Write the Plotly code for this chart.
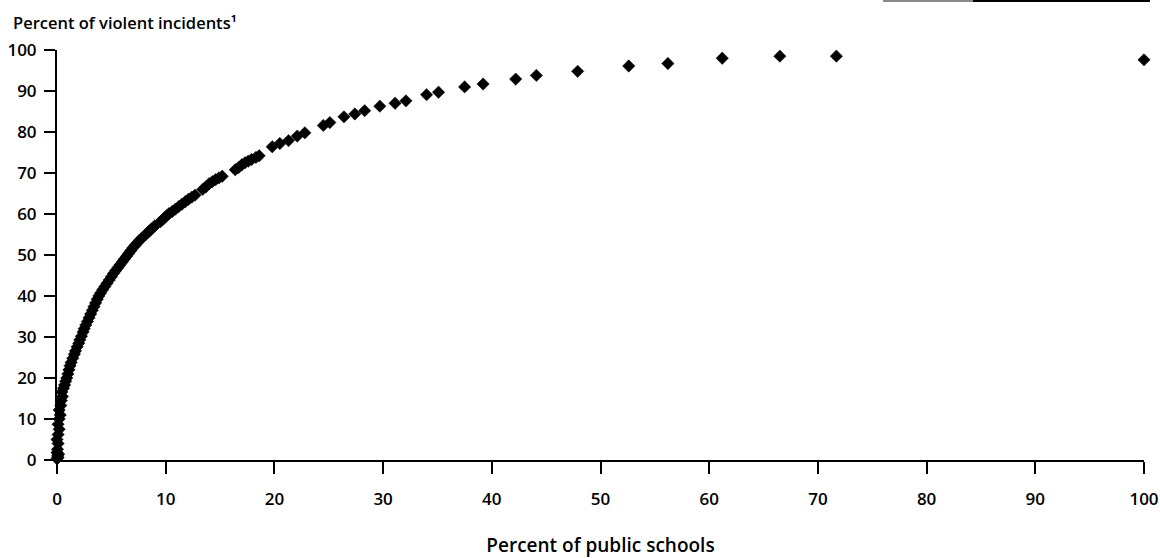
import plotly.graph_objects as go

# Percent of public schools (x) vs cumulative percent of violent incidents (y)
pct_schools = [
    0.0, 0.05, 0.1, 0.0, 0.15, 0.05, 0.1, 0.0, 0.1, 0.2, 0.1, 0.2, 0.3, 0.2, 0.35,
    0.4, 0.5, 0.45, 0.6, 0.7, 0.8, 0.9, 1.0, 1.1, 1.2, 1.3, 1.45, 1.6, 1.7, 1.85,
    2.0, 2.1, 2.25, 2.4, 2.5, 2.65, 2.8, 2.95, 3.1, 3.25, 3.4, 3.55, 3.7, 3.85, 4.0,
    4.2, 4.4, 4.6, 4.8, 5.0, 5.2, 5.4, 5.6, 5.8, 6.0, 6.2, 6.4, 6.6, 6.8, 7.0,
    7.2, 7.4, 7.6, 7.8, 8.0, 8.2, 8.4, 8.6, 8.8, 9.0, 9.5, 9.7, 9.9, 10.1, 10.3,
    10.6, 10.9, 11.2, 11.5, 11.8, 12.1, 12.4, 12.7,
    13.4, 13.7, 14.0, 14.3, 14.6, 14.9, 15.2,
    16.4, 16.7, 17.0, 17.3, 17.6, 17.9, 18.3, 18.6,
    19.8, 20.5, 21.3, 22.1, 22.8, 24.5, 25.1, 26.4, 27.4, 28.3, 29.7, 31.1, 32.1,
    34.0, 35.1, 37.5, 39.2, 42.2, 44.1, 47.9, 52.6, 56.2, 61.2, 66.5, 71.7, 100.0,
]
pct_incidents = [
    0.3, 1.0, 0.6, 1.8, 1.4, 2.6, 4.0, 5.0, 6.2, 7.5, 8.7, 10.0, 11.0, 12.2, 13.3,
    14.5, 15.5, 16.6, 17.5, 18.3, 19.2, 20.0, 21.0, 22.0, 23.0, 23.8, 24.8, 25.8, 26.6, 27.6,
    28.5, 29.3, 30.2, 31.2, 32.0, 32.9, 33.8, 34.7, 35.6, 36.5, 37.4, 38.3, 39.2, 40.0, 40.7,
    41.5, 42.3, 43.1, 43.9, 44.7, 45.5, 46.2, 46.9, 47.6, 48.3, 49.0, 49.7, 50.4, 51.1, 51.8,
    52.4, 53.0, 53.6, 54.1, 54.6, 55.1, 55.6, 56.1, 56.6, 57.1, 58.1, 58.6, 59.1, 59.6, 60.1,
    60.6, 61.2, 61.8, 62.4, 63.0, 63.6, 64.1, 64.6,
    66.0, 66.6, 67.4, 67.9, 68.4, 68.8, 69.2,
    70.8, 71.3, 72.0, 72.5, 72.9, 73.3, 73.8, 74.2,
    76.4, 77.2, 77.9, 79.0, 79.8, 81.6, 82.3, 83.7, 84.4, 85.2, 86.3, 87.0, 87.6,
    89.1, 89.7, 91.0, 91.7, 92.9, 93.8, 94.8, 96.1, 96.7, 98.0, 98.5, 98.5, 97.6,
]

x_ticks = [0, 10, 20, 30, 40, 50, 60, 70, 80, 90, 100]
y_ticks = [0, 10, 20, 30, 40, 50, 60, 70, 80, 90, 100]

y_title = "Percent of violent incidents¹"
x_title = "Percent of public schools"

FONT = "Open Sans"
W, H = 1160, 558
L, R, T, B = 57, 16, 50, 98
PW, PH = W - L - R, H - T - B

fig = go.Figure()
fig.add_trace(go.Scatter(
    x=pct_schools, y=pct_incidents, mode="markers",
    marker=dict(symbol="diamond", size=9.5, color="black",
                line=dict(color="black", width=0.5)),
    cliponaxis=False, showlegend=False,
))

fig.update_layout(
    width=W, height=H,
    margin=dict(l=L, r=R, t=T, b=B, autoexpand=False),
    paper_bgcolor="white", plot_bgcolor="white",
    font=dict(family=FONT, color="black", size=17),
    xaxis=dict(
        range=[0, 100], tickvals=x_ticks, ticktext=[str(v) for v in x_ticks],
        showgrid=False, zeroline=False, showline=True, linecolor="black", linewidth=2,
        ticks="outside", ticklen=12, tickwidth=2, tickcolor="black",
        ticklabelstandoff=11, automargin=False,
        tickfont=dict(family=FONT, size=17, weight=600),
        title=dict(text=x_title, font=dict(family=FONT, size=19, weight=600), standoff=39),
    ),
    yaxis=dict(
        range=[0, 100], tickvals=y_ticks, ticktext=[str(v) for v in y_ticks],
        showgrid=False, zeroline=False, showline=True, linecolor="black", linewidth=2,
        ticks="outside", ticklen=11, tickwidth=2, tickcolor="black",
        ticklabelstandoff=4, automargin=False,
        tickfont=dict(family=FONT, size=17, weight=600),
    ),
    annotations=[dict(
        text=y_title, xref="paper", yref="paper", x=0, y=1, xshift=-46, yshift=28,
        xanchor="left", yanchor="middle", showarrow=False,
        font=dict(family=FONT, size=16.5, weight=600),
    )],
    shapes=[
        dict(type="line", xref="paper", yref="paper", x0=(883 - L) / PW, x1=(973 - L) / PW,
             y0=1 + (T - 1) / PH, y1=1 + (T - 1) / PH, line=dict(color="#8a8a8a", width=2)),
        dict(type="line", xref="paper", yref="paper", x0=(973 - L) / PW, x1=(1150 - L) / PW,
             y0=1 + (T - 1) / PH, y1=1 + (T - 1) / PH, line=dict(color="black", width=2)),
    ],
)

# remove the default 8px page margin so the figure fills the window exactly
fig.write_html(
    "out.html",
    config={"displayModeBar": False},
    post_script="document.body.style.margin='0px';document.body.style.overflow='hidden';",
)
